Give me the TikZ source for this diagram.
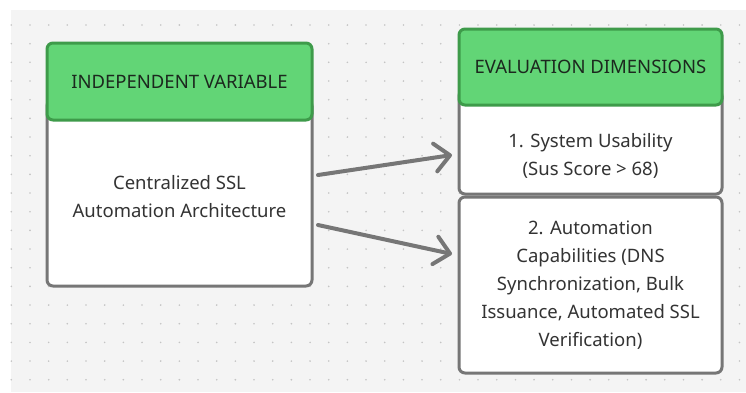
\documentclass[tikz,border=0pt]{standalone}
\usepackage{fontspec}
\setmainfont{Noto Sans}
\usetikzlibrary{arrows.meta}
\definecolor{grh}{HTML}{62D576}
\definecolor{grb}{HTML}{3E9B4A}
\definecolor{gab}{HTML}{767676}
\definecolor{bgx}{HTML}{F4F4F4}
\definecolor{dtx}{HTML}{C4C4C4}
\definecolor{txh}{HTML}{1C281E}
\definecolor{txb}{HTML}{333333}
\tikzset{
    hdbox/.style={draw=grb,fill=grh,line width=3pt,rounded corners=6pt,inner sep=0pt,
        text=txh,font=\fontsize{18.5}{20}\selectfont},
    bdbox/.style={draw=gab,fill=white,line width=3pt,rounded corners=6pt,inner sep=0pt},
    bdtxt/.style={text=txb,align=center,font=\fontsize{18.5}{28}\selectfont},
    link/.style={gab,line width=4pt,line cap=round,
        -{Straight Barb[length=15pt,width=28pt,line width=4pt,round]}}
}
\begin{document}
\begin{tikzpicture}[x=1pt,y=-1pt]
    \useasboundingbox (0,0) rectangle (746,392);
    \fill [bgx] (11,10) rectangle (746,392);
    \foreach \i in {0,...,39} {
        \foreach \j in {0,...,19} {
            \fill [dtx] (11.33+18.67*\i,25+18.67*\j) circle (0.9);
        }
    }
    % left column
    \node [bdbox,minimum width=265pt,minimum height=186pt] (ivbody) at (179.5,193) {};
    \node [hdbox,minimum width=265pt,minimum height=77pt] (ivhead) at (179.5,81.5) {INDEPENDENT VARIABLE};
    \node [bdtxt] (ivtext) at (179.5,197) {Centralized SSL\\Automation Architecture};
    % right column
    \node [bdbox,minimum width=263pt,minimum height=104pt] (edone) at (590.5,142) {};
    \node [bdbox,minimum width=263pt,minimum height=176pt] (edtwo) at (590.5,285) {};
    \node [hdbox,minimum width=263pt,minimum height=76pt] (edhead) at (590.5,67) {EVALUATION DIMENSIONS};
    \node [bdtxt] (onetext) at (590.5,156) {1. System Usability\\(Sus Score > 68)};
    \node [bdtxt] (twotext) at (590.5,285) {2. Automation\\Capabilities (DNS\\Synchronization, Bulk\\Issuance, Automated SSL\\Verification)};
    % arrows
    \coordinate (aone) at (318,175);
    \coordinate (atwo) at (318,225);
    \coordinate (bone) at (452,155);
    \coordinate (btwo) at (452,254);
    \draw [link] (aone) -- (bone);
    \draw [link] (atwo) -- (btwo);
\end{tikzpicture}
\end{document}
